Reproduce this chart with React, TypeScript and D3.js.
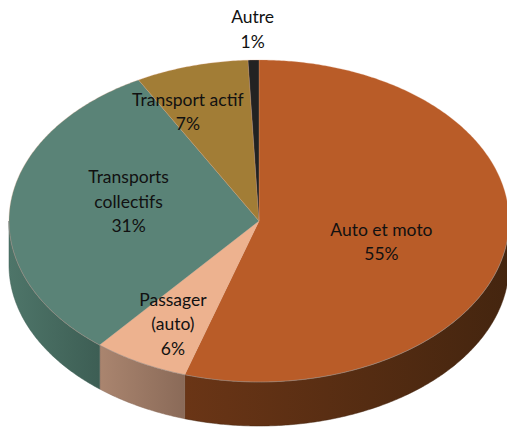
import React from "react";
import * as d3 from "d3";

const categories = ["Auto et moto", "Passager (auto)", "Transports collectifs", "Transport actif", "Autre"];
const values = [54.8, 6.2, 31.0, 7.3, 0.7];
const percentLabels = ["55%", "6%", "31%", "7%", "1%"];
const labelLines = [["Auto et moto"], ["Passager", "(auto)"], ["Transports", "collectifs"], ["Transport actif"], ["Autre"]];

const topColors = ["#B95C28", "#EDB28F", "#5A8377", "#A27D36", "#222222"];
const sideLeft = ["#6A3516", "#AA856F", "#4E7569", "#8A6A2E", "#1A1A1A"];
const sideRight = ["#44250F", "#8A6A58", "#3D5E54", "#6F5424", "#111111"];
const labelRadius = [0.518, 0.76, 0.528, 0.701, 1.153];
const labelShiftDeg = [10.4, -1.5, 3.4, -8.3, 0];

const W = 507, H = 427;
const cx = 259, cy = 221, rx = 250, ry = 161, depth = 44;
const fs = 17.5, lh = 24.5;

const pt = (a: number, f = 1) => [cx + rx * f * Math.sin(a), cy - ry * f * Math.cos(a)] as [number, number];

function arcPts(a0: number, a1: number, dy = 0) {
  const n = Math.max(2, Math.ceil(Math.abs(a1 - a0) / 0.01));
  return d3.range(n + 1).map(i => {
    const a = a0 + (a1 - a0) * (i / n);
    const p = pt(a);
    return [p[0], p[1] + dy] as [number, number];
  });
}

export default function App() {
  const pie = d3.pie<number>().sort(null).startAngle(0).endAngle(2 * Math.PI);
  const arcs = pie(values);
  const line = d3.line();

  const tops = arcs.map((d, i) => {
    const pts = [[cx, cy] as [number, number], ...arcPts(d.startAngle, d.endAngle)];
    return <path key={"t" + i} d={line(pts) + "Z"} fill={topColors[i]} stroke="#d9a080" strokeOpacity={0.35} strokeWidth={0.8} />;
  });

  const sides: React.ReactNode[] = [];
  const grads: React.ReactNode[] = [];
  arcs.forEach((d, i) => {
    const a0 = Math.max(d.startAngle, Math.PI / 2);
    const a1 = Math.min(d.endAngle, (3 * Math.PI) / 2);
    if (a1 <= a0) return;
    const topA = arcPts(a0, a1);
    const botA = arcPts(a1, a0, depth);
    const xs = topA.map(p => p[0]);
    const x0 = d3.min(xs)!, x1 = d3.max(xs)!;
    const id = "g" + i;
    grads.push(
      <linearGradient key={id} id={id} gradientUnits="userSpaceOnUse" x1={x0} y1={0} x2={x1} y2={0}>
        <stop offset="0" stopColor={sideLeft[i]} />
        <stop offset="1" stopColor={sideRight[i]} />
      </linearGradient>
    );
    sides.push(<path key={"s" + i} d={line([...topA, ...botA]) + "Z"} fill={`url(#${id})`} stroke={sideRight[i]} strokeWidth={0.5} />);
  });

  const rim = arcPts(Math.PI / 2, (3 * Math.PI) / 2);

  const labels = arcs.map((d, i) => {
    const mid = (d.startAngle + d.endAngle) / 2 + (labelShiftDeg[i] * Math.PI) / 180;
    const [lx, ly] = pt(mid, labelRadius[i]);
    const lines = [...labelLines[i], percentLabels[i]];
    const n = lines.length;
    return (
      <text key={"l" + i} x={lx} textAnchor="middle" fontFamily="Lato, 'Open Sans', sans-serif" fontSize={fs} fill="#111111">
        {lines.map((s, j) => (
          <tspan key={j} x={lx} y={ly + (j - (n - 1) / 2) * lh}>{s}</tspan>
        ))}
      </text>
    );
  });

  return (
    <svg width={W} height={H} style={{ position: "absolute", left: 0, top: 0 }}>
      <defs>{grads}</defs>
      <rect width={W} height={H} fill="#ffffff" />
      {sides}
      {tops}
      <path d={line(rim)!} fill="none" stroke="#8a8a8a" strokeOpacity={0.6} strokeWidth={0.8} />
      {labels}
    </svg>
  );
}
